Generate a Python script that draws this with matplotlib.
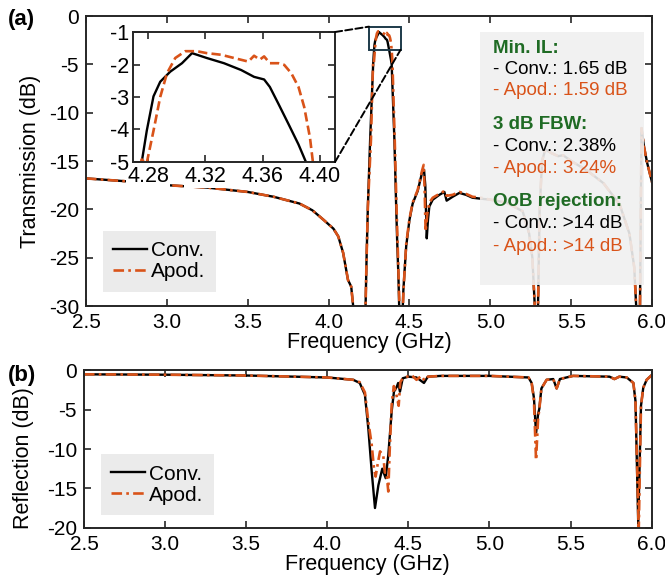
import matplotlib
matplotlib.use("Agg")
import matplotlib.pyplot as plt
from matplotlib.patches import Rectangle, ConnectionPatch

plt.rcParams['font.family'] = ['Liberation Sans', 'DejaVu Sans']
plt.rcParams['axes.unicode_minus'] = False

# ---- data ----
# (a) transmission, conventional
t_conv_f = [2.50, 2.75, 3.00, 3.25, 3.50, 3.66, 3.82, 3.90, 3.97, 4.03, 4.06, 4.09,
            4.12, 4.14, 4.155, 4.17, 4.20, 4.225, 4.235, 4.243, 4.257, 4.2756, 4.2791,
            4.2838, 4.2885, 4.2955, 4.3037, 4.3107, 4.321, 4.333, 4.345, 4.354, 4.361,
            4.365, 4.371, 4.378, 4.385, 4.390, 4.407, 4.418, 4.424, 4.432, 4.438, 4.445,
            4.455, 4.462, 4.469, 4.48, 4.50, 4.52, 4.551, 4.578, 4.590, 4.598, 4.607,
            4.615, 4.623, 4.644, 4.685, 4.716, 4.73, 4.767, 4.809, 4.85, 4.89, 4.943,
            5.0, 5.1, 5.2, 5.24, 5.26, 5.275, 5.285, 5.295, 5.305, 5.32, 5.34, 5.38,
            5.42, 5.45, 5.5, 5.6, 5.7, 5.8, 5.86, 5.89, 5.905, 5.915, 5.925, 5.935,
            5.95, 5.97, 6.0]
t_conv_db = [-16.8, -17.1, -17.5, -17.75, -18.2, -18.7, -19.4, -20.1, -21.1, -22.0, -22.8, -24.5,
             -27.3, -28.0, -30.5, -34, -40, -33, -25, -19.7, -12.8, -5.0, -4.04,
             -2.98, -2.53, -2.22, -1.96, -1.65, -1.80, -1.96, -2.17, -2.38, -2.46,
             -2.69, -3.21, -3.83, -4.46, -4.98, -12.8, -19.7, -23.2, -27, -31, -38,
             -32, -28.5, -26.6, -23.8, -21.1, -19.4, -18.1, -16.2, -15.9, -17.5, -23.0,
             -21.0, -19.7, -19.0, -18.5, -18.2, -19.1, -18.7, -18.3, -18.5, -18.8, -18.9,
             -19.0, -19.3, -20.2, -22.5, -25, -30, -36, -30, -20, -15, -13.8, -14.2,
             -14.5, -14.4, -15, -16, -17.3, -19.5, -22.5, -26, -31, -40, -31, -11.6,
             -13.5, -15.2, -17.2]

# (a) transmission, apodized
t_apod_f = [2.50, 2.75, 3.00, 3.25, 3.50, 3.66, 3.82, 3.90, 3.97, 4.03, 4.06, 4.09,
            4.12, 4.14, 4.155, 4.17, 4.20, 4.225, 4.235, 4.243, 4.262, 4.272, 4.2755,
            4.279, 4.2838, 4.2885, 4.2932, 4.299, 4.306, 4.314, 4.321, 4.331, 4.340,
            4.350, 4.354, 4.358, 4.361, 4.365, 4.371, 4.375, 4.380, 4.385, 4.389,
            4.393, 4.395, 4.409, 4.42, 4.426, 4.433, 4.44, 4.447, 4.456, 4.463, 4.47,
            4.48, 4.50, 4.52, 4.551, 4.578, 4.588, 4.594, 4.600, 4.610, 4.623, 4.644,
            4.685, 4.716, 4.73, 4.767, 4.809, 4.85, 4.89, 4.943, 5.0, 5.1, 5.2, 5.24,
            5.26, 5.275, 5.285, 5.295, 5.305, 5.32, 5.34, 5.38, 5.42, 5.45, 5.5, 5.6,
            5.7, 5.8, 5.86, 5.89, 5.905, 5.915, 5.925, 5.935, 5.95, 5.97, 6.0]
t_apod_db = [-16.8, -17.1, -17.5, -17.75, -18.2, -18.7, -19.4, -20.1, -21.1, -22.0, -22.8, -24.5,
             -27.3, -28.0, -30.5, -34, -40, -33, -25, -19.7, -12.8, -6.5, -4.92,
             -5.05, -4.04, -3.0, -2.27, -1.80, -1.59, -1.59, -1.65, -1.70, -1.80,
             -1.91, -1.73, -1.85, -1.75, -1.96, -1.96, -2.01, -2.27, -2.69, -3.31,
             -4.25, -4.98, -12.8, -19.7, -23.0, -27, -31, -38, -32, -28.5, -26.4,
             -23.6, -21.0, -19.3, -18.0, -16.0, -15.4, -18.0, -22.3, -20.5, -19.3, -18.8,
             -18.4, -18.1, -18.6, -18.5, -18.2, -18.4, -18.7, -18.8, -19.0, -19.3, -20.2, -22.5,
             -25, -30, -36, -30, -20, -15, -13.8, -14.2, -14.5, -14.4, -15, -16,
             -17.3, -19.5, -22.5, -26, -31, -40, -31, -11.6, -13.5, -15.2, -17.2]

# (b) reflection, conventional
r_conv_f = [2.5, 3.0, 3.5, 4.0, 4.16, 4.20, 4.232, 4.253, 4.274, 4.294, 4.315, 4.339,
            4.36, 4.376, 4.397, 4.411, 4.428, 4.437, 4.448, 4.465, 4.50, 4.55, 4.596,
            4.62, 4.7, 5.0, 5.24, 5.26, 5.274, 5.287, 5.30, 5.307, 5.32, 5.352, 5.393,
            5.414, 5.434, 5.515, 5.74, 5.77, 5.80, 5.846, 5.887, 5.90, 5.917, 5.934,
            5.948, 5.969, 6.0]
r_conv_db = [-0.5, -0.55, -0.65, -0.9, -1.2, -1.6, -3.1, -7.4, -12.9, -17.5, -14.6, -12.5,
             -13.7, -10.8, -5.2, -2.7, -2.1, -1.6, -2.7, -1.0, -0.8, -0.9, -1.6,
             -0.8, -0.7, -0.7, -0.9, -1.6, -3.5, -8.0, -5.5, -4.9, -2.3, -1.2, -1.1,
             -2.3, -1.1, -0.7, -0.8, -1.1, -0.8, -0.9, -1.6, -3.9, -19.5, -4.5,
             -2.2, -1.2, -0.6]

# (b) reflection, apodized
r_apod_f = [2.5, 3.0, 3.5, 4.0, 4.16, 4.20, 4.232, 4.253, 4.274, 4.288, 4.298, 4.31,
            4.325, 4.345, 4.355, 4.365, 4.376, 4.385, 4.397, 4.41, 4.42, 4.44, 4.45,
            4.465, 4.52, 4.55, 4.58, 4.60, 4.62, 4.7, 5.0, 5.24, 5.26, 5.274, 5.287,
            5.30, 5.307, 5.32, 5.352, 5.393, 5.414, 5.434, 5.515, 5.74, 5.77, 5.80,
            5.846, 5.887, 5.90, 5.92, 5.934, 5.948, 5.969, 6.0]
r_apod_db = [-0.5, -0.55, -0.65, -0.9, -1.2, -1.5, -2.8, -6.5, -9.5, -12.5, -13.5, -12.0,
             -10.3, -10.8, -13.0, -13.0, -15.4, -10.0, -4.3, -2.0, -2.5, -4.5, -1.5,
             -1.0, -0.6, -1.2, -0.7, -1.3, -0.8, -0.7, -0.7, -0.9, -1.6, -3.8, -11.4,
             -6.0, -5.0, -2.3, -1.2, -1.1, -2.3, -1.1, -0.7, -0.8, -1.1, -0.8,
             -0.9, -1.6, -3.9, -20.5, -4.5, -2.2, -1.2, -0.6]

freq_ticks = [2.5, 3.0, 3.5, 4.0, 4.5, 5.0, 5.5, 6.0]
inset_ticks = [4.28, 4.32, 4.36, 4.40]

notes = [("Min. IL:", "head"), ("- Conv.: 1.65 dB", "conv"), ("- Apod.: 1.59 dB", "apod"),
         ("3 dB FBW:", "head"), ("- Conv.: 2.38%", "conv"), ("- Apod.: 3.24%", "apod"),
         ("OoB rejection:", "head"), ("- Conv.: >14 dB", "conv"), ("- Apod.: >14 dB", "apod")]
note_y = [48, 69, 90, 124, 146, 168, 201, 223, 246]

ORANGE = '#d95319'
GREEN = '#1f6b24'
SPINE = '#262626'
FS = 15

conv_kw = dict(color='black', lw=1.7, ls='-', label='Conv.', zorder=2)
apod_kw = dict(color=ORANGE, lw=1.9, ls=(0, (4, 1.6, 1, 1.6)), label='Apod.', zorder=2.1)


def style(ax, fs=FS):
    for s in ax.spines.values():
        s.set_color(SPINE)
        s.set_linewidth(1.4)
    ax.tick_params(direction='in', top=True, right=True, length=5, width=1.2,
                   color=SPINE, labelsize=fs, pad=5)


fig = plt.figure(figsize=(6.65, 5.8), dpi=100)
ax1 = fig.add_axes([0.1293, 0.4724, 0.8512, 0.5])
ax2 = fig.add_axes([0.1263, 0.0902, 0.8537, 0.2712])

# ---- (a) transmission ----
ax1.plot(t_conv_f, t_conv_db, **conv_kw)
ax1.plot(t_apod_f, t_apod_db, **apod_kw)
ax1.set_xlim(2.5, 6.0)
ax1.set_ylim(-30, 0)
ax1.set_xticks(freq_ticks)
ax1.set_xticklabels([f"{v:.1f}" for v in freq_ticks])
ax1.set_yticks([0, -5, -10, -15, -20, -25, -30])
style(ax1)
ax1.set_xlabel("Frequency (GHz)", fontsize=15.5)
ax1.set_ylabel("Transmission (dB)", fontsize=15.5)
ax1.xaxis.set_label_coords(0.5, -0.088)
ax1.yaxis.set_label_coords(-0.08, 0.5)
leg = ax1.legend(loc='lower left', bbox_to_anchor=(0.03, 0.05), fontsize=15,
                 facecolor='#ebebeb', edgecolor='none', framealpha=1, fancybox=False,
                 handlelength=1.6, handletextpad=0.2, borderaxespad=0, borderpad=0.5,
                 labelspacing=0.1)

# annotation box
ax1.add_patch(Rectangle((0.696, 0.072), 0.29, 0.873, transform=ax1.transAxes,
                        facecolor='#f0f0f0', edgecolor='none', alpha=0.9, zorder=3))
for (txt, kind), py in zip(notes, note_y):
    color = {'head': GREEN, 'conv': 'black', 'apod': ORANGE}[kind]
    weight = 'bold' if kind == 'head' else 'normal'
    ax1.text(0.7186, (306 - py) / 290, txt, transform=ax1.transAxes, fontsize=13.5,
             color=color, fontweight=weight, va='center', ha='left', zorder=4)

# zoom rectangle
ax1.add_patch(Rectangle((4.25, -3.5), 0.195, 2.4, facecolor='none',
                        edgecolor='#1d3a4a', lw=1.4, zorder=5))

# inset
axins = fig.add_axes([0.2, 0.7207, 0.3038, 0.2241])
axins.plot(t_conv_f, t_conv_db, **conv_kw)
axins.plot(t_apod_f, t_apod_db, color=ORANGE, lw=1.9, ls=(0, (3.5, 1.6)), zorder=2.1)
axins.set_xlim(4.2695, 4.4105)
axins.set_ylim(-5, -1)
axins.set_xticks(inset_ticks)
axins.set_xticklabels([f"{v:.2f}" for v in inset_ticks])
axins.set_yticks([-1, -2, -3, -4, -5])
style(axins, fs=15.5)
axins.tick_params(pad=3)
for lbl in axins.get_xticklabels() + axins.get_yticklabels():
    lbl.set_bbox(dict(facecolor='white', edgecolor='none', pad=0.5))

for xa, xb in [((1, 1), (4.25, -1.1)), ((1, 0), (4.445, -3.5))]:
    con = ConnectionPatch(xyA=xa, coordsA=axins.transAxes, xyB=xb, coordsB=ax1.transData,
                          ls='--', color='black', lw=1.4)
    fig.add_artist(con)

# ---- (b) reflection ----
ax2.plot(r_conv_f, r_conv_db, **conv_kw)
ax2.plot(r_apod_f, r_apod_db, **apod_kw)
ax2.set_xlim(2.5, 6.0)
ax2.set_ylim(-20, 0)
ax2.set_xticks(freq_ticks)
ax2.set_xticklabels([f"{v:.1f}" for v in freq_ticks])
ax2.set_yticks([0, -5, -10, -15, -20])
style(ax2)
ax2.set_xlabel("Frequency (GHz)", fontsize=15.5)
ax2.set_ylabel("Reflection (dB)", fontsize=15.5)
ax2.xaxis.set_label_coords(0.5, -0.17)
ax2.yaxis.set_label_coords(-0.088, 0.44)
ax2.legend(loc='lower left', bbox_to_anchor=(0.03, 0.08), fontsize=15,
           facecolor='#ebebeb', edgecolor='none', framealpha=1, fancybox=False,
           handlelength=1.6, handletextpad=0.2, borderaxespad=0, borderpad=0.5,
           labelspacing=0.1)

fig.text(0.012, 1 - 20 / 580, "(a)", fontsize=16, fontweight='bold', va='center')
fig.text(0.012, 1 - 376 / 580, "(b)", fontsize=16, fontweight='bold', va='center')

fig.savefig("out.png", dpi=100)
